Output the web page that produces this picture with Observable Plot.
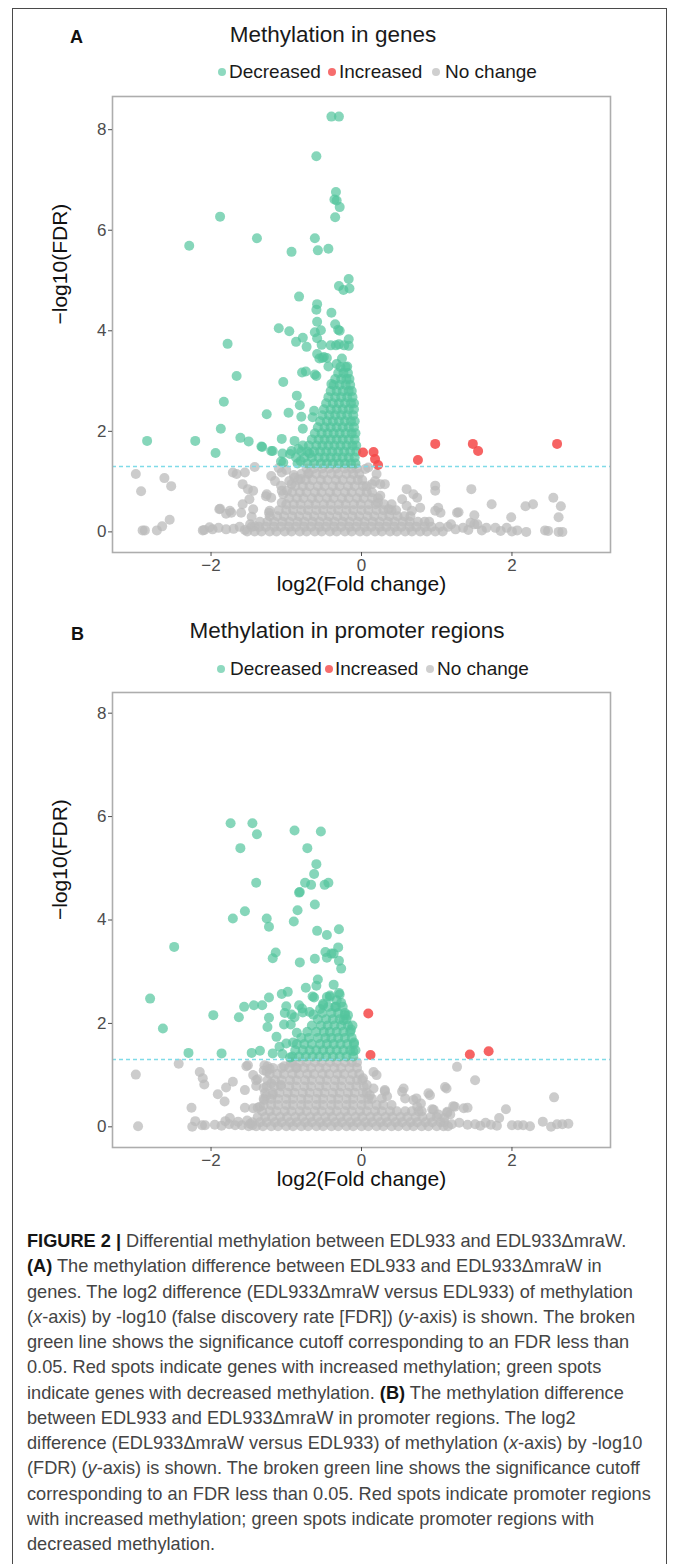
<!DOCTYPE html>
<html>
<head>
<meta charset="utf-8">
<script src="https://cdn.jsdelivr.net/npm/d3@7"></script>
<script src="https://cdn.jsdelivr.net/npm/@observablehq/plot@0.6"></script>
<style>
  body { margin: 0; background: #fff; }
  #page { position: relative; width: 673px; height: 1564px; overflow: hidden; font-family: "Liberation Sans", Arial, sans-serif; background: #fff; }
  .frame { position: absolute; left: 12px; top: 8px; width: 655px; height: 1600px; border: 1.5px solid #4a4a4a; box-sizing: border-box; }
  .abs { position: absolute; white-space: nowrap; line-height: 1; }
  .tag { font-weight: bold; font-size: 18px; color: #111; }
  .title { font-size: 22.5px; color: #1a1a1a; transform: translateX(-50%); }
  .leg { font-size: 19px; color: #1a1a1a; }
  .key { position: absolute; width: 8px; height: 8px; border-radius: 50%; }
  .cap { position: absolute; left: 27px; top: 1229px; font-size: 18.2px; line-height: 25.27px; color: #444; }
  .cap div { white-space: nowrap; }
  .cap b { color: #151515; }
  .plotbox { position: absolute; left: 0; }
</style>
</head>
<body>
<div id="page">
  <div class="frame"></div>

  <div class="abs tag" style="left:70px;top:28px;">A</div>
  <div class="abs title" style="left:333px;top:24px;">Methylation in genes</div>
  <div class="key" style="left:218px;top:68px;background:rgba(82,196,156,0.65);"></div>
  <div class="abs leg" style="left:229px;top:62px;">Decreased</div>
  <div class="key" style="left:328px;top:68px;background:rgba(244,72,72,0.8);"></div>
  <div class="abs leg" style="left:339px;top:62px;">Increased</div>
  <div class="key" style="left:432px;top:68px;background:rgba(187,187,187,0.7);"></div>
  <div class="abs leg" style="left:445px;top:62px;">No change</div>
  <div id="plotA" class="plotbox" style="top:90px;"></div>

  <div class="abs tag" style="left:71px;top:625px;">B</div>
  <div class="abs title" style="left:347px;top:620px;">Methylation in promoter regions</div>
  <div class="key" style="left:217px;top:665px;background:rgba(82,196,156,0.65);"></div>
  <div class="abs leg" style="left:230px;top:659px;">Decreased</div>
  <div class="key" style="left:325px;top:665px;background:rgba(244,72,72,0.8);"></div>
  <div class="abs leg" style="left:335px;top:659px;">Increased</div>
  <div class="key" style="left:426px;top:665px;background:rgba(187,187,187,0.7);"></div>
  <div class="abs leg" style="left:437px;top:659px;">No change</div>
  <div id="plotB" class="plotbox" style="top:686px;"></div>

  <div class="cap">
    <div><b>FIGURE 2 |</b> Differential methylation between EDL933 and EDL933ΔmraW.</div>
    <div><b>(A)</b> The methylation difference between EDL933 and EDL933ΔmraW in</div>
    <div>genes. The log2 difference (EDL933ΔmraW versus EDL933) of methylation</div>
    <div>(<i>x</i>-axis) by -log10 (false discovery rate [FDR]) (<i>y</i>-axis) is shown. The broken</div>
    <div>green line shows the significance cutoff corresponding to an FDR less than</div>
    <div>0.05. Red spots indicate genes with increased methylation; green spots</div>
    <div>indicate genes with decreased methylation. <b>(B)</b> The methylation difference</div>
    <div>between EDL933 and EDL933ΔmraW in promoter regions. The log2</div>
    <div>difference (EDL933ΔmraW versus EDL933) of methylation (<i>x</i>-axis) by -log10</div>
    <div>(FDR) (<i>y</i>-axis) is shown. The broken green line shows the significance cutoff</div>
    <div>corresponding to an FDR less than 0.05. Red spots indicate promoter regions</div>
    <div>with increased methylation; green spots indicate promoter regions with</div>
    <div>decreased methylation.</div>
  </div>
</div>

<script>
// ---------- axis settings ----------
const xTicks = [-2, 0, 2];
const yTicks = [0, 2, 4, 6, 8];
const xTitle = "log2(Fold change)";
const yTitle = "\u2212log10(FDR)";
const cutoff = 1.301; // -log10(0.05)

// ---------- Panel A: genes ----------
const genesIncreased = [[0.02,1.58],[0.16,1.59],[0.18,1.45],[0.22,1.33],[0.75,1.43],[0.98,1.75],[1.48,1.75],[1.55,1.61],[2.60,1.75]];

const genesDecreased = [
  [-0.40,8.26],[-0.30,8.26],[-0.60,7.47],[-0.34,6.76],[-0.36,6.61],[-0.33,6.59],[-0.29,6.46],[-0.35,6.26],
  [-1.88,6.27],[-2.29,5.69],[-1.39,5.84],[-0.62,5.84],[-0.58,5.60],[-0.44,5.63],[-0.93,5.57],[-0.17,5.03],
  [-0.30,4.89],[-0.24,4.81],[-0.16,4.84],[-0.83,4.68],[-0.59,4.53],[-0.60,4.42],[-0.40,4.36],[-0.59,4.18],
  [-0.35,4.13],[-0.31,4.02],[-0.29,4.00],[-1.10,4.05],[-0.96,3.99],[-0.62,3.97],[-0.54,4.01],[-0.87,3.78],
  [-0.78,3.86],[-0.59,3.85],[-0.73,3.68],[-1.78,3.74],[-0.53,3.72],[-0.41,3.71],[-0.34,3.71],[-0.30,3.73],
  [-0.23,3.71],[-0.17,3.83],[-0.17,3.70],[-0.59,3.54],[-0.50,3.48],[-0.46,3.46],[-0.56,3.45],[-0.52,3.46],
  [-0.26,3.45],[-0.19,3.29],[-0.44,3.29],[-0.33,3.34],[-0.79,3.17],[-0.74,3.19],[-0.62,3.13],[-0.60,3.10],
  [-1.66,3.10],[-1.04,2.98],[-0.40,2.94],
  [-2.85,1.81],[-2.21,1.81],[-1.94,1.57],[-1.87,2.05],[-1.83,2.59],[-1.61,1.87],[-1.50,1.80],[-1.32,1.69],
  [-1.26,2.34],[-1.18,1.61],[-1.06,1.85],[-1.05,1.56],[-1.07,1.40],[-0.97,2.37],[-0.89,1.81],[-0.86,2.71],
  [-0.82,2.52],[-0.80,2.29],[-0.84,1.65],[-0.93,1.61],[-0.78,2.05],[-0.69,1.56],[-0.81,1.41],[-0.65,2.28],
  [-0.63,2.41],[-1.04,1.38],[-0.95,1.55],[-1.20,1.61],[-1.33,1.70]
];
const genesDecreasedRows = [
  [1.36, [-0.85,-0.72,-0.63,-0.54,-0.46,-0.38,-0.30,-0.22,-0.14,-0.08]],
  [1.48, [-0.87,-0.76,-0.66,-0.57,-0.49,-0.41,-0.33,-0.25,-0.17,-0.09]],
  [1.60, [-0.80,-0.72,-0.63,-0.55,-0.47,-0.39,-0.31,-0.23,-0.15,-0.07]],
  [1.72, [-0.78,-0.70,-0.60,-0.52,-0.44,-0.36,-0.28,-0.20,-0.12,-0.07]],
  [1.84, [-0.66,-0.57,-0.49,-0.41,-0.33,-0.25,-0.17,-0.09]],
  [1.96, [-0.62,-0.53,-0.45,-0.37,-0.29,-0.21,-0.13,-0.08]],
  [2.08, [-0.58,-0.49,-0.41,-0.33,-0.25,-0.17,-0.10]],
  [2.20, [-0.55,-0.46,-0.38,-0.30,-0.22,-0.14,-0.09]],
  [2.32, [-0.52,-0.43,-0.35,-0.27,-0.19,-0.11]],
  [2.44, [-0.50,-0.41,-0.33,-0.25,-0.17,-0.10]],
  [2.56, [-0.47,-0.38,-0.30,-0.22,-0.14,-0.10]],
  [2.68, [-0.44,-0.35,-0.27,-0.19,-0.12]],
  [2.80, [-0.41,-0.33,-0.25,-0.17,-0.13]],
  [2.92, [-0.37,-0.29,-0.21,-0.15]],
  [3.04, [-0.35,-0.27,-0.20,-0.16]],
  [3.16, [-0.31,-0.24,-0.18]],
  [3.28, [-0.28,-0.21]]
];

const genesNoChange = [
  [-3.00,1.15],[-2.93,0.81],[-2.91,0.03],[-2.88,0.03],[-2.62,1.07],[-2.53,0.91],[-2.55,0.24],[-2.65,0.11],
  [-2.72,0.03],[-2.11,0.03],[-2.02,0.09],[-1.88,0.46],[-1.80,0.36],[-1.71,1.18],[-1.66,1.15],[-1.55,1.18],
  [-1.42,1.29],[-1.58,0.95],[-1.51,0.85],[-1.44,0.82],[-1.49,0.65],[-1.58,0.55],[-1.89,0.45],[-1.75,0.42],
  [-1.73,0.38],[-1.60,0.38],[-1.44,0.45],[-1.46,0.30],[-1.42,0.11],[-1.27,0.71],[-1.23,0.38],[-1.20,1.11],
  [-1.15,1.01],[-1.06,1.18],[-1.00,1.23],[-1.26,0.75],[-1.20,0.68],[-1.22,0.42],[-1.06,0.58],[-1.04,0.75],
  [-1.07,0.92],[-1.06,0.82],[-0.99,0.82],[-0.96,1.01],[-0.93,0.95],[-0.89,1.08],[-0.90,1.13],[-0.81,1.05],
  [-0.70,1.16],[-1.10,1.27],
  [-2.09,0.04],[-1.98,0.05],[-1.90,0.08],[-1.80,0.05],[-1.70,0.06],[-1.62,0.10],[-1.55,0.04],[-1.48,0.15],
  [0.05,1.25],[0.09,1.28],[0.20,1.15],[0.18,1.01],[0.14,0.95],[0.25,0.95],[0.31,0.95],[0.25,0.72],
  [0.22,0.58],[0.40,0.55],[0.36,0.45],[0.54,0.65],[0.60,0.85],[0.69,0.75],[0.74,0.68],[0.60,0.52],
  [0.67,0.42],[0.78,0.48],[0.98,0.92],[0.98,0.82],[0.98,0.42],[1.05,0.38],[1.27,0.38],[1.46,0.85],
  [1.45,0.18],[1.54,0.15],[1.73,0.55],[1.99,0.29],[2.18,0.51],[2.28,0.55],[2.55,0.68],[2.65,0.51],
  [2.62,0.29],[2.44,0.03],[2.62,0.00],[2.67,0.00],[2.19,0.00],[2.07,0.03],[1.93,0.08],[1.78,0.08],
  [1.66,0.08],[1.50,0.15],[1.35,0.08],[1.19,0.15],[1.29,0.39],[1.50,0.33],[1.02,0.48],[1.15,0.10],
  [1.25,0.05],[1.42,0.04],[1.60,0.03],[1.85,0.02],[2.00,0.01],[2.48,0.02]
];
const genesNoChangeRows = [
  [1.26, [-0.73,-0.63,-0.52,-0.43,-0.33,-0.22,-0.13,-0.06]],
  [1.15, [-0.80,-0.71,-0.60,-0.51,-0.40,-0.31,-0.20,-0.11,-0.03]],
  [1.03, [-0.84,-0.74,-0.65,-0.54,-0.45,-0.34,-0.25,-0.14,-0.05,0.01]],
  [0.91, [-0.88,-0.78,-0.69,-0.58,-0.49,-0.38,-0.29,-0.18,-0.09,0.02,0.07]],
  [0.79, [-0.92,-0.82,-0.73,-0.62,-0.53,-0.42,-0.33,-0.22,-0.13,-0.02,0.07,0.14]],
  [0.67, [-0.96,-0.86,-0.77,-0.66,-0.57,-0.46,-0.37,-0.26,-0.17,-0.06,0.03,0.14,0.22]],
  [0.55, [-1.00,-0.90,-0.81,-0.70,-0.61,-0.50,-0.41,-0.30,-0.21,-0.10,-0.01,0.10,0.19,0.30]],
  [0.43, [-1.10,-1.00,-0.91,-0.80,-0.71,-0.60,-0.51,-0.40,-0.31,-0.20,-0.11,0.00,0.09,0.20,0.29,0.40,0.46]],
  [0.31, [-1.22,-1.12,-1.03,-0.92,-0.83,-0.72,-0.63,-0.52,-0.43,-0.32,-0.23,-0.12,-0.03,0.08,0.17,0.28,0.37,0.48,0.57,0.65]],
  [0.20, [-1.35,-1.25,-1.16,-1.05,-0.96,-0.85,-0.76,-0.65,-0.56,-0.45,-0.36,-0.25,-0.16,-0.05,0.04,0.15,0.24,0.35,0.44,0.55,0.64,0.75,0.84,0.90]],
  [0.10, [-1.46,-1.36,-1.27,-1.16,-1.07,-0.96,-0.87,-0.76,-0.67,-0.56,-0.47,-0.36,-0.27,-0.16,-0.07,0.04,0.13,0.24,0.33,0.44,0.53,0.64,0.73,0.84,0.93,1.04]],
  [0.01, [-1.52,-1.42,-1.33,-1.22,-1.13,-1.02,-0.93,-0.82,-0.73,-0.62,-0.53,-0.42,-0.33,-0.22,-0.13,-0.02,0.07,0.18,0.27,0.38,0.47,0.58,0.67,0.78,0.87,0.98,1.08]]
];

// ---------- Panel B: promoter regions ----------
const promotersIncreased = [[0.09,2.19],[0.12,1.39],[1.44,1.40],[1.69,1.46]];

const promotersDecreased = [
  [-1.74,5.87],[-1.45,5.87],[-1.39,5.66],[-1.61,5.39],[-0.89,5.73],[-0.54,5.71],[-0.72,5.39],[-0.60,5.08],
  [-0.63,4.89],[-0.75,4.72],[-0.67,4.68],[-0.49,4.68],[-0.44,4.72],[-1.40,4.72],[-0.83,4.53],[-0.82,4.54],
  [-0.62,4.30],[-0.85,4.19],[-1.55,4.17],[-1.71,4.03],[-1.26,4.03],[-1.23,3.87],[-0.90,3.97],[-0.59,3.79],
  [-0.46,3.71],[-0.30,3.82],[-2.49,3.48],[-1.14,3.37],[-1.18,3.26],[-0.82,3.18],[-0.62,3.25],[-0.48,3.38],
  [-0.46,3.27],[-0.40,3.35],[-0.37,3.35],[-0.31,3.47],[-0.30,3.21],[-0.27,3.06],[-0.58,2.85],[-0.60,2.73],
  [-0.74,2.69],[-0.37,2.75],[-0.65,2.52],[-0.63,2.50],[-0.30,2.59],[-0.42,2.51],[-0.46,2.51],[-1.06,2.57],
  [-0.98,2.61],[-1.23,2.50],[-1.56,2.32],[-1.43,2.35],[-1.32,2.35],[-1.63,2.12],[-1.23,2.11],[-1.25,1.93],
  [-1.00,2.33],[-1.02,2.20],[-0.83,2.35],[-0.79,2.29],[-1.03,1.98],[-0.94,1.98],[-1.13,1.74],[-1.00,1.61],
  [-1.09,1.55],[-1.18,1.42],[-1.35,1.47],[-1.46,1.43],[-1.86,1.42],[-2.81,2.48],[-2.64,1.90],[-2.30,1.43],
  [-1.97,2.16],[-1.05,1.41],[-0.95,1.34],[-0.91,1.63],[-0.86,1.82],[-0.93,2.17],[-0.89,2.12],[-0.78,2.21],
  [-0.69,2.22],[-0.55,2.28],[-0.51,2.38],[-0.42,2.54],[-0.33,2.45],[-0.35,2.32],[-0.22,2.16],[-0.18,2.16],
  [-0.24,2.06],[-0.14,1.88],[-0.10,1.63],[-0.11,1.46],[-0.27,2.40],[-0.29,2.56],[-0.51,2.35],[-0.64,2.17]
];
const promotersDecreasedRows = [
  [1.36, [-0.92,-0.83,-0.74,-0.65,-0.56,-0.47,-0.38,-0.29,-0.20,-0.11]],
  [1.48, [-0.88,-0.78,-0.69,-0.60,-0.51,-0.42,-0.33,-0.24,-0.15,-0.08]],
  [1.60, [-0.86,-0.76,-0.66,-0.55,-0.46,-0.37,-0.28,-0.19,-0.10]],
  [1.72, [-0.80,-0.70,-0.58,-0.48,-0.40,-0.31,-0.22,-0.13]],
  [1.84, [-0.72,-0.60,-0.50,-0.42,-0.33,-0.24,-0.15]],
  [1.96, [-0.66,-0.54,-0.45,-0.36,-0.27,-0.18,-0.12]],
  [2.08, [-0.58,-0.47,-0.38,-0.29,-0.20]],
  [2.20, [-0.52,-0.40,-0.31,-0.22]],
  [2.32, [-0.44,-0.34,-0.25]]
];

const promotersNoChange = [
  [-3.00,1.01],[-2.97,0.01],[-2.43,1.22],[-2.26,0.37],[-2.21,0.11],[-2.25,0.00],[-2.12,0.03],[-2.08,0.03],
  [-2.15,1.06],[-2.11,0.94],[-2.09,0.82],[-1.91,0.63],[-1.80,0.76],[-1.82,0.49],[-1.71,0.87],[-1.81,0.11],
  [-1.75,0.17],[-1.68,0.03],[-1.59,0.03],[-1.48,0.06],[-1.55,0.71],[-1.53,1.17],[-1.55,0.37],[-1.38,0.37],
  [-1.44,0.36],[-1.35,0.39],[-1.38,0.92],[-1.40,0.79],[-1.25,1.17],[-1.30,1.09],[-1.27,0.59],[-1.51,1.19],
  [-1.44,1.00],[-1.40,0.90],[-1.29,1.19],[-1.22,1.12],[-1.03,1.17],[-1.26,1.07],[-1.30,0.75],[-1.20,0.84],
  [-1.07,0.81],[-1.18,0.62],[-1.29,0.52],[-0.94,1.24],[-0.86,1.14],
  [-1.95,0.04],[-1.86,0.02],[-1.76,0.05],[-1.64,0.10],[-1.52,0.12],[-1.45,0.03],
  [0.16,1.06],[0.20,1.00],[0.02,0.94],[0.07,0.81],[0.16,0.74],[0.31,0.71],[0.11,0.61],[0.27,0.55],
  [0.56,0.74],[0.54,0.68],[0.58,0.55],[0.69,0.52],[0.73,0.55],[0.89,0.65],[0.74,0.39],[0.96,0.33],
  [1.11,0.77],[1.27,1.16],[1.51,0.90],[1.14,0.29],[1.22,0.40],[1.36,0.36],[0.34,0.59],[0.31,0.69],
  [0.79,0.45],[0.91,0.61],[1.13,0.74],[1.24,0.39],[1.18,0.24],[1.41,0.37],[1.92,0.34],[1.83,0.17],
  [1.65,0.08],[1.72,0.04],[1.80,0.02],[2.00,0.03],[2.08,0.03],[2.15,0.03],[2.24,0.01],[2.41,0.10],
  [2.52,0.00],[2.56,0.57],[2.60,0.05],[2.67,0.05],[2.75,0.06],[1.51,0.05],[1.41,0.04],[1.30,0.08],
  [1.10,0.17],[1.14,0.27],[0.94,0.34],[1.02,0.24],[1.20,0.05],[1.58,0.02]
];
const promotersNoChangeRows = [
  [1.25, [-0.92,-0.82,-0.73,-0.62,-0.53,-0.42,-0.33,-0.22,-0.13,-0.06]],
  [1.14, [-1.18,-1.06,-0.96,-0.87,-0.76,-0.67,-0.56,-0.47,-0.36,-0.27,-0.16,-0.06]],
  [1.02, [-1.22,-1.12,-1.03,-0.92,-0.83,-0.72,-0.63,-0.52,-0.43,-0.32,-0.23,-0.12,-0.03]],
  [0.90, [-1.25,-1.15,-1.06,-0.95,-0.86,-0.75,-0.66,-0.55,-0.46,-0.35,-0.26,-0.15,-0.06,0.01]],
  [0.78, [-1.26,-1.16,-1.07,-0.96,-0.87,-0.76,-0.67,-0.56,-0.47,-0.36,-0.27,-0.16,-0.07,0.03]],
  [0.66, [-1.28,-1.18,-1.09,-0.98,-0.89,-0.78,-0.69,-0.58,-0.49,-0.38,-0.29,-0.18,-0.09,0.02,0.07]],
  [0.54, [-1.30,-1.20,-1.11,-1.00,-0.91,-0.80,-0.71,-0.60,-0.51,-0.40,-0.31,-0.20,-0.11,0.00,0.09,0.14]],
  [0.42, [-1.30,-1.20,-1.11,-1.00,-0.91,-0.80,-0.71,-0.60,-0.51,-0.40,-0.31,-0.20,-0.11,0.00,0.09,0.20,0.29,0.40]],
  [0.30, [-1.32,-1.22,-1.13,-1.02,-0.93,-0.82,-0.73,-0.62,-0.53,-0.42,-0.33,-0.22,-0.13,-0.02,0.07,0.18,0.27,0.38,0.47,0.58,0.67,0.76,0.80]],
  [0.19, [-1.38,-1.28,-1.19,-1.08,-0.99,-0.88,-0.79,-0.68,-0.59,-0.48,-0.39,-0.28,-0.19,-0.08,0.01,0.12,0.21,0.32,0.41,0.52,0.61,0.72,0.81,0.92,1.00]],
  [0.09, [-1.45,-1.35,-1.26,-1.15,-1.06,-0.95,-0.86,-0.75,-0.66,-0.55,-0.46,-0.35,-0.26,-0.15,-0.06,0.05,0.14,0.25,0.34,0.45,0.54,0.65,0.74,0.85,0.94,1.05,1.10]],
  [0.01, [-1.50,-1.40,-1.31,-1.20,-1.11,-1.00,-0.91,-0.80,-0.71,-0.60,-0.51,-0.40,-0.31,-0.20,-0.11,0.00,0.09,0.20,0.29,0.40,0.49,0.60,0.69,0.80,0.89,1.00,1.09,1.15]]
];

// ---------- build tables ----------
const fromPairs = arr => arr.map(([x, y]) => ({x, y}));
const fromRows = rows => rows.flatMap(([y, xs]) => xs.map(x => ({x, y})));
const fmt = d => d < 0 ? "\u2212" + Math.abs(d) : String(d);

function panel(decreased, increased, noChange, yDomain, boxH) {
  return Plot.plot({
    width: 673,
    height: 6 + boxH + 52,
    marginLeft: 112, marginRight: 63, marginTop: 6, marginBottom: 52,
    x: {domain: [-3.31, 3.31]},
    y: {domain: yDomain},
    style: {fontFamily: '"Liberation Sans", Arial, sans-serif', fontSize: "17px", color: "#4d4d4d", background: "transparent", overflow: "visible"},
    marks: [
      Plot.dot(noChange, {x: "x", y: "y", r: 5, fill: "#bbbbbb", fillOpacity: 0.75}),
      Plot.dot(decreased, {x: "x", y: "y", r: 5, fill: "#52c49c", fillOpacity: 0.7}),
      Plot.dot(increased, {x: "x", y: "y", r: 5, fill: "#f44848", fillOpacity: 0.85}),
      Plot.ruleY([cutoff], {stroke: "#7fdbe8", strokeDasharray: "4,3", strokeWidth: 1.4}),
      Plot.frame({stroke: "#adadad", strokeWidth: 1.6}),
      Plot.axisX(xTicks, {tickSize: 4, tickPadding: 2, tickFormat: fmt, label: null}),
      Plot.axisY(yTicks, {tickSize: 4, tickPadding: 2, tickFormat: fmt, label: null}),
      Plot.text([xTitle], {frameAnchor: "bottom", dy: 38, fontSize: 21, fill: "#111"}),
      Plot.text([yTitle], {frameAnchor: "left", dx: -52, rotate: -90, fontSize: 21, fill: "#111"})
    ]
  });
}

document.getElementById("plotA").appendChild(panel(
  fromPairs(genesDecreased).concat(fromRows(genesDecreasedRows)),
  fromPairs(genesIncreased),
  fromPairs(genesNoChange).concat(fromRows(genesNoChangeRows)),
  [-0.41, 8.66], 456));

document.getElementById("plotB").appendChild(panel(
  fromPairs(promotersDecreased).concat(fromRows(promotersDecreasedRows)),
  fromPairs(promotersIncreased),
  fromPairs(promotersNoChange).concat(fromRows(promotersNoChangeRows)),
  [-0.40, 8.40], 455));
</script>
</body>
</html>
